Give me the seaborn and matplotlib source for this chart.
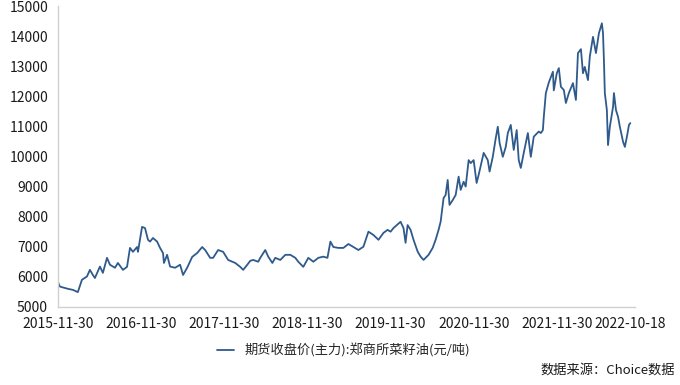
import pandas as pd
import matplotlib
matplotlib.use('Agg')
import matplotlib.pyplot as plt
import matplotlib.dates as mdates
import seaborn as sns

# Rapeseed oil futures close price (main contract), CZCE, yuan/ton
dates = [
    '2015-11-30', '2015-12-09', '2015-12-26', '2016-01-13', '2016-02-04', '2016-02-26',
    '2016-03-15', '2016-04-06', '2016-04-19', '2016-05-02', '2016-05-11', '2016-06-02',
    '2016-06-15', '2016-07-03', '2016-07-16', '2016-08-07', '2016-08-20', '2016-09-11',
    '2016-09-29', '2016-10-12', '2016-10-25', '2016-11-12', '2016-11-16', '2016-12-04',
    '2016-12-17', '2016-12-30', '2017-01-08', '2017-01-21', '2017-02-08', '2017-02-21',
    '2017-03-06', '2017-03-10', '2017-03-24', '2017-04-06', '2017-04-28', '2017-05-20',
    '2017-06-02', '2017-06-20', '2017-07-12', '2017-08-03', '2017-08-25', '2017-09-07',
    '2017-09-29', '2017-10-12', '2017-11-03', '2017-11-25', '2017-12-17', '2018-01-04',
    '2018-01-17', '2018-02-08', '2018-02-21', '2018-03-11', '2018-03-24', '2018-04-06',
    '2018-04-28', '2018-05-07', '2018-05-29', '2018-06-11', '2018-06-29', '2018-07-12',
    '2018-08-03', '2018-08-25', '2018-09-16', '2018-10-08', '2018-10-21', '2018-11-12',
    '2018-12-04', '2018-12-26', '2019-01-17', '2019-02-08', '2019-02-26', '2019-03-11',
    '2019-03-24', '2019-04-15', '2019-05-07', '2019-05-29', '2019-06-20', '2019-07-12',
    '2019-08-03', '2019-08-25', '2019-09-16', '2019-10-08', '2019-10-30', '2019-11-17',
    '2019-11-30', '2019-12-13', '2020-01-13', '2020-01-26', '2020-02-04', '2020-02-13',
    '2020-02-26', '2020-03-10', '2020-03-28', '2020-04-10', '2020-04-23', '2020-05-15',
    '2020-06-02', '2020-06-15', '2020-06-28', '2020-07-07', '2020-07-20', '2020-07-29',
    '2020-08-07', '2020-08-15', '2020-08-29', '2020-09-11', '2020-09-24', '2020-10-03',
    '2020-10-16', '2020-10-25', '2020-11-07', '2020-11-16', '2020-11-29', '2020-12-12',
    '2020-12-21', '2021-01-12', '2021-01-30', '2021-02-07', '2021-02-21', '2021-03-06',
    '2021-03-15', '2021-03-23', '2021-04-06', '2021-04-19', '2021-04-28', '2021-05-11',
    '2021-05-24', '2021-06-06', '2021-06-15', '2021-06-24', '2021-07-07', '2021-07-25',
    '2021-08-07', '2021-08-20', '2021-09-11', '2021-09-20', '2021-09-29', '2021-10-03',
    '2021-10-12', '2021-10-25', '2021-11-12', '2021-11-16', '2021-11-29', '2021-12-08',
    '2021-12-17', '2021-12-30', '2022-01-08', '2022-01-21', '2022-02-08', '2022-02-21',
    '2022-03-02', '2022-03-15', '2022-03-24', '2022-04-01', '2022-04-15', '2022-04-23',
    '2022-05-07', '2022-05-20', '2022-06-02', '2022-06-15', '2022-06-20', '2022-06-24',
    '2022-06-28', '2022-07-07', '2022-07-12', '2022-07-20', '2022-08-03', '2022-08-07',
    '2022-08-16', '2022-08-25', '2022-09-02', '2022-09-16', '2022-09-24', '2022-10-03',
    '2022-10-12', '2022-10-18',
]
prices = [
    5840, 5675, 5640, 5600, 5565, 5490,
    5900, 6010, 6230, 6060, 5960, 6340,
    6130, 6630, 6400, 6300, 6460, 6230,
    6330, 6960, 6830, 6990, 6830, 7660,
    7620, 7230, 7170, 7290, 7170, 6960,
    6790, 6460, 6730, 6340, 6300, 6400,
    6060, 6300, 6660, 6790, 6990, 6890,
    6630, 6630, 6890, 6830, 6560, 6500,
    6460, 6330, 6230, 6400, 6530, 6560,
    6500, 6630, 6890, 6670, 6460, 6630,
    6560, 6730, 6730, 6630, 6500, 6330,
    6630, 6500, 6630, 6670, 6630, 7170,
    6990, 6960, 6960, 7090, 6990, 6890,
    7000, 7500, 7390, 7230, 7460, 7560,
    7500, 7620, 7830, 7620, 7130, 7720,
    7560, 7230, 6840, 6670, 6560, 6730,
    6960, 7230, 7560, 7830, 8620, 8720,
    9220, 8390, 8550, 8720, 9330, 8890,
    9160, 9000, 9880, 9780, 9880, 9120,
    9390, 10120, 9880, 9500, 9990, 10610,
    10990, 10450, 9990, 10320, 10780, 11050,
    10220, 10880, 9880, 9620, 10120, 10780,
    9990, 10660, 10830, 10780, 10880, 11320,
    12110, 12460, 12820, 12200, 12770, 12940,
    12320, 12210, 11780, 12110, 12440, 11880,
    13440, 13570, 12770, 12980, 12540, 13320,
    13980, 13440, 14100, 14430, 14100, 13210,
    12110, 11540, 10380, 10990, 11650, 12110,
    11540, 11320, 10990, 10490, 10320, 10660,
    11050, 11110,
]
tick_dates = ['2015-11-30', '2016-11-30', '2017-11-30', '2018-11-30',
              '2019-11-30', '2020-11-30', '2021-11-30', '2022-10-18']
series_name = '期货收盘价(主力):郑商所菜籽油(元/吨)'

df = pd.DataFrame({'date': pd.to_datetime(dates), 'price': prices})

sns.set_style('white')
plt.rcParams['font.family'] = ['Noto Sans CJK SC', 'DejaVu Sans']

fig = plt.figure(figsize=(6.8, 3.85), dpi=100)
ax = fig.add_axes([0.085, 0.203, 0.849, 0.781])

sns.lineplot(data=df, x='date', y='price', ax=ax, color='#2f5a8c',
             linewidth=1.3, label=series_name, legend=False)

ax.set_xlim(pd.Timestamp('2015-11-30'), pd.Timestamp('2022-11-08'))
ax.set_ylim(5000, 15000)
ax.set_yticks(range(5000, 15001, 1000))
ax.set_xticks(pd.to_datetime(tick_dates))
ax.xaxis.set_major_formatter(mdates.DateFormatter('%Y-%m-%d'))
ax.set_xlabel('')
ax.set_ylabel('')

for s in ['top', 'right']:
    ax.spines[s].set_visible(False)
for s in ['left', 'bottom']:
    ax.spines[s].set_color('#d0d0d0')
    ax.spines[s].set_linewidth(1.0)
ax.tick_params(axis='both', colors='#d0d0d0', labelcolor='#1a1a1a',
               labelsize=10, length=3, width=0.8, direction='out')
ax.tick_params(axis='x', pad=4)
ax.tick_params(axis='y', pad=4)

handles, labels = ax.get_legend_handles_labels()
fig.legend(handles, labels, loc='center', bbox_to_anchor=(0.505, 0.09),
           frameon=False, fontsize=9.5, handlelength=1.3, handletextpad=0.8)

fig.text(0.993, 0.038, '数据来源：Choice数据', ha='right', va='center',
         fontsize=9.5, color='#1a1a1a')

fig.savefig('out.png', dpi=100)
